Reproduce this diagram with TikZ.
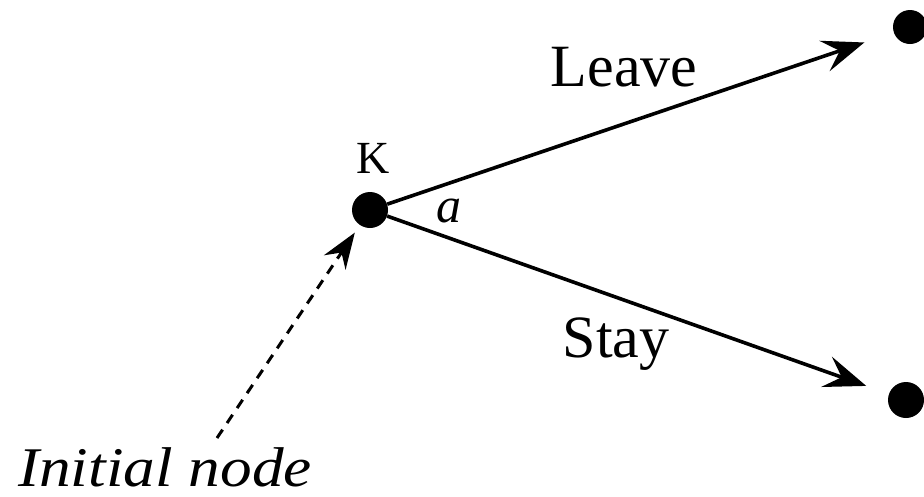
\documentclass[tikz,border=0pt]{standalone}
\usepackage{fontspec}
\setmainfont{Liberation Serif}
\usetikzlibrary{arrows.meta}
\begin{document}
\begin{tikzpicture}[x=1pt,y=-1pt,
  dot/.style={circle,fill=black,inner sep=0pt,minimum size=#1},
  lbl/.style={anchor=base,inner sep=0pt,font=\fontsize{60}{62}\selectfont},
  move/.style={line width=3.6pt,-{Stealth[length=42pt,width=32pt,inset=16pt]}},
  initarrow/.style={line width=3pt,dash pattern=on 10pt off 8pt,-{Stealth[length=36pt,width=26pt,inset=12pt]}}]
\useasboundingbox (0,0) rectangle (924,496);
\node[dot=36pt] (K) at (370,210) {};
\node[dot=34pt] (T) at (910,27) {};
\node[dot=36pt] (B) at (906,400) {};
\coordinate (init) at (217,438);
\draw[move,shorten >=31pt] (K) -- (T);
\draw[move,shorten >=24pt] (K) -- (B);
\draw[initarrow,shorten >=9pt] (init) -- (K);
\node[lbl,font=\fontsize{46}{48}\selectfont] (Klbl) at (373,173) {K};
\node[lbl,font=\fontsize{50}{52}\selectfont\itshape] (alpha) at (449,222) {a};
\node[lbl] (leave) at (624,86) {Leave};
\node[lbl] (stay) at (616,357) {Stay};
\node[lbl,font=\fontsize{56}{58}\selectfont\itshape] (initlbl) at (165,486) {\scalebox{1.13}[1]{Initial node}};
\end{tikzpicture}
\end{document}
